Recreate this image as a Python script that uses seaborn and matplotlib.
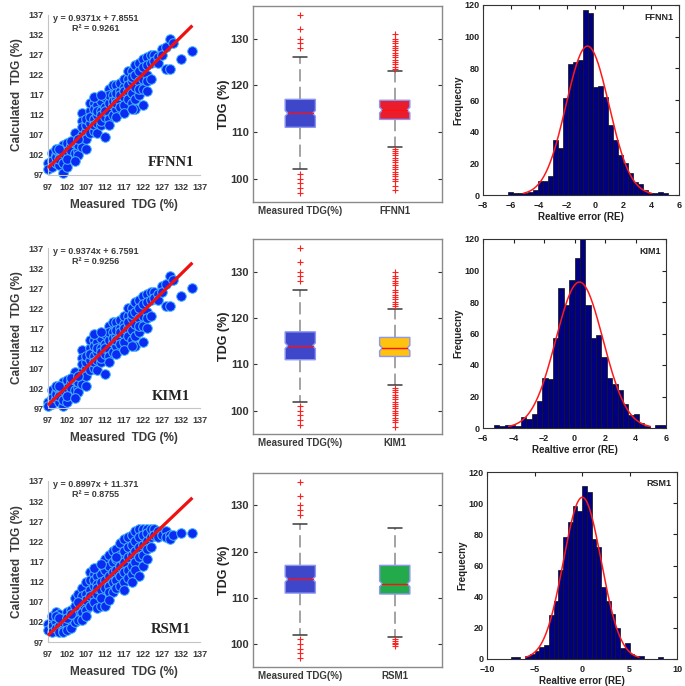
import numpy as np
import pandas as pd
import matplotlib
matplotlib.use("Agg")
import matplotlib.pyplot as plt
from matplotlib.patches import Polygon
import seaborn as sns

sns.set_style("white")
plt.rcParams['font.family'] = ['Liberation Sans', 'DejaVu Sans']
plt.rcParams['font.weight'] = 'bold'
plt.rcParams['axes.labelweight'] = 'bold'

models = ['FFNN1', 'KIM1', 'RSM1']

# ---- scatter data (measured vs calculated TDG, %) ----
measured = [97, 97, 98, 98, 98, 99, 99, 99, 100, 100, 100, 101, 101, 101, 101,
            102, 102, 102, 103, 103, 103, 104, 104, 104, 105, 105, 105,
            106, 106, 106, 106, 106, 107, 107, 107, 107, 107, 108, 108, 108, 108, 108,
            109, 109, 109, 109, 109, 110, 110, 110, 110, 110, 111, 111, 111, 111, 111,
            112, 112, 112, 112, 112, 113, 113, 113, 113, 113, 114, 114, 114, 114, 114,
            115, 115, 115, 115, 115, 116, 116, 116, 116, 116, 117, 117, 117, 117, 117,
            118, 118, 118, 118, 118, 119, 119, 119, 119, 119, 120, 120, 120, 120, 120,
            121, 121, 121, 121, 121, 122, 122, 122, 122, 122, 123, 123, 123, 123, 123,
            124, 124, 124, 125, 125, 126, 126, 127, 127, 128, 128, 129, 129, 130, 132, 135,
            99, 100, 102, 103, 104, 105, 109, 111, 113, 115, 117, 119]

calc_ffnn = [100.0, 98.5, 102.5, 100.5, 99.0, 102.0, 100.0, 101.5, 102.5, 99.5, 101.0,
             104.5, 97.5, 100.0, 102.5, 105.0, 103.0, 99.0, 104.5, 101.5, 103.0,
             107.5, 105.0, 102.5, 103.0, 104.5, 102.0,
             112.5, 110.5, 104.0, 107.0, 109.0, 108.0, 106.0, 103.5, 109.5, 111.0,
             113.0, 110.0, 107.5, 111.5, 115.0, 115.0, 113.5, 111.0, 108.0, 109.5,
             114.5, 112.0, 107.5, 110.0, 113.0, 113.0, 115.5, 109.5, 112.0, 110.5,
             116.5, 114.0, 106.5, 111.5, 113.0, 118.5, 115.0, 112.5, 117.0, 111.0,
             117.0, 114.5, 119.5, 112.0, 115.5, 119.5, 116.0, 113.5, 117.5, 115.0,
             118.0, 115.5, 120.0, 114.0, 117.0, 119.0, 116.5, 121.0, 114.5, 118.0,
             121.0, 118.0, 116.0, 119.5, 123.0, 123.0, 120.5, 117.5, 115.0, 121.5,
             124.5, 122.0, 119.0, 116.0, 113.5, 125.0, 123.0, 120.5, 117.0, 118.5,
             126.0, 124.0, 121.0, 118.5, 114.5, 126.5, 124.5, 122.0, 120.5, 118.0,
             127.0, 125.0, 121.0, 127.0, 125.5, 126.5, 125.0, 128.5, 127.0,
             129.0, 123.5, 131.0, 123.5, 130.0, 126.0, 128.0,
             103.5, 103.5, 101.0, 105.5, 100.5, 106.0, 116.5, 117.0, 109.5, 111.5, 112.5, 113.5]

calc_kim = [98.5, 97.5, 101.5, 99.5, 98.0, 101.0, 99.5, 100.5, 101.5, 98.5, 100.0,
            103.5, 97.5, 99.0, 101.5, 104.0, 102.0, 98.5, 103.5, 100.5, 102.0,
            106.0, 104.0, 101.5, 102.0, 103.5, 101.0,
            111.5, 109.5, 103.0, 106.0, 108.0, 107.0, 105.0, 102.5, 108.5, 110.0,
            112.0, 109.0, 106.5, 110.5, 114.0, 114.0, 112.5, 110.0, 107.0, 108.5,
            113.5, 111.0, 106.5, 109.0, 112.0, 112.0, 114.5, 108.5, 111.0, 109.5,
            115.5, 113.0, 105.5, 110.5, 112.0, 117.5, 114.0, 111.5, 116.0, 110.0,
            116.0, 113.5, 118.5, 111.0, 114.5, 118.5, 115.0, 112.5, 116.5, 114.0,
            117.0, 114.5, 119.0, 113.0, 116.0, 118.0, 115.5, 120.0, 113.5, 117.0,
            120.0, 117.0, 115.0, 118.5, 122.0, 122.0, 119.5, 116.5, 114.0, 120.5,
            123.5, 121.0, 118.0, 115.0, 112.5, 124.0, 122.0, 119.5, 116.0, 117.5,
            125.0, 123.0, 120.0, 117.5, 113.5, 125.5, 123.5, 121.0, 119.5, 117.0,
            126.0, 124.0, 120.0, 126.0, 124.5, 125.5, 124.0, 127.5, 126.0,
            128.0, 122.5, 130.0, 122.5, 129.0, 125.0, 127.0,
            102.5, 102.5, 100.0, 104.5, 99.5, 105.0, 115.5, 116.0, 108.5, 110.5, 111.5, 112.5]

calc_rsm = [101.5, 100.0, 103.5, 101.0, 99.5, 104.5, 102.0, 100.5, 104.0, 101.0, 99.5,
            103.0, 100.0, 102.0, 99.5, 104.5, 101.5, 100.0, 105.0, 102.5, 100.5,
            108.0, 104.0, 102.0, 109.0, 105.0, 102.5,
            110.5, 108.5, 104.5, 102.5, 106.5, 112.0, 109.0, 105.0, 107.5, 103.5,
            114.5, 112.5, 110.0, 106.0, 108.5, 114.0, 111.0, 108.5, 107.0, 112.5,
            113.5, 111.5, 109.0, 105.5, 110.5, 114.0, 112.0, 110.0, 106.0, 108.0,
            117.5, 115.0, 112.5, 110.5, 106.0, 118.5, 116.0, 113.5, 111.0, 109.5,
            119.5, 117.0, 114.5, 112.0, 109.5, 120.0, 117.5, 115.0, 112.5, 110.5,
            121.5, 118.5, 116.0, 113.5, 111.0, 122.5, 119.5, 117.0, 114.5, 112.0,
            123.0, 120.5, 118.0, 115.0, 113.0, 123.5, 121.0, 118.5, 116.0, 114.0,
            124.5, 122.0, 119.5, 117.0, 115.0, 125.0, 123.0, 120.5, 118.0, 113.5,
            125.0, 123.5, 121.0, 118.5, 116.0, 125.0, 124.0, 122.0, 120.0, 117.5,
            125.0, 123.0, 120.5, 125.0, 123.5, 124.5, 123.0, 124.5, 123.5,
            124.5, 123.0, 123.5, 122.5, 123.5, 124.0, 124.0,
            103.5, 103.0, 103.0, 104.0, 106.0, 107.0, 115.5, 116.5, 107.5, 118.0, 110.0, 112.0]

calculated = [calc_ffnn, calc_kim, calc_rsm]
slopes = [0.9371, 0.9374, 0.8997]
intercepts = [7.8551, 6.7591, 11.371]
eq_labels = ['y = 0.9371x + 7.8551', 'y = 0.9374x + 6.7591', 'y = 0.8997x + 11.371']
r2_labels = ['R² = 0.9261', 'R² = 0.9256', 'R² = 0.8755']

# ---- box plot summary values ----
box_names = ['Measured TDG(%)', 'FFNN1', 'KIM1', 'RSM1']
box_med = [114.0, 114.7, 113.5, 113.0]
box_q1 = [111.0, 112.7, 111.7, 110.8]
box_q3 = [117.0, 116.8, 115.8, 117.0]
box_lo = [102.0, 106.7, 105.5, 101.5]
box_hi = [126.0, 123.0, 122.0, 125.0]
box_fliers = [
    [128, 129, 130, 132, 135, 101, 100, 99, 98, 97],
    [123.5, 124, 124.5, 125, 125.5, 126, 126.5, 127, 127.5, 128, 128.5, 129, 129.5, 130, 131,
     106.3, 106, 105.5, 105, 104.5, 104, 103.5, 103, 102.5, 102, 101.5, 101, 100.5, 100,
     99.5, 98.5, 97.5],
    [122.5, 123, 123.5, 124, 124.5, 125, 125.5, 126, 127, 127.5, 128, 128.5, 129, 130,
     105, 104.5, 104, 103.5, 103, 102.5, 102, 101.5, 101, 100.5, 100, 99.5, 99, 98.5,
     98, 97.5, 96.5],
    [101, 100.6, 100.3, 100, 99.5],
]
box_colors = ['#3E47C9', '#EA1D2C', '#FFC20F', '#23AA4B']

# ---- histogram counts of relative error ----
ffnn_counts = [2, 1, 1, 1, 2, 3, 9, 9, 12, 35, 30, 61, 83, 84, 85, 117, 115, 68, 69, 62,
               44, 35, 25, 20, 14, 8, 7, 3, 1, 1, 2, 1]
kim_counts = [2, 1, 2, 2, 1, 7, 6, 9, 17, 32, 31, 57, 89, 78, 94, 108, 120, 78, 57, 59,
              45, 32, 28, 24, 15, 8, 9, 3, 1, 0, 2, 2]
rsm_counts = [1, 1, 0, 2, 3, 5, 8, 9, 28, 37, 57, 78, 88, 98, 95, 111, 107, 77, 72, 46,
              37, 29, 20, 7, 10, 3, 2, 2, 0, 0, 0, 1]
hist_counts = [ffnn_counts, kim_counts, rsm_counts]
hist_ranges = [(-6.21, 5.21), (-5.28, 6.0), (-7.5, 8.5)]
hist_xlims = [(-8, 6), (-6, 6), (-10, 10)]
hist_xticks = [np.arange(-8, 7, 2), np.arange(-6, 7, 2), np.arange(-10, 11, 5)]

W, H = 685, 686
fig = plt.figure(figsize=(W / 100, H / 100), dpi=100)


def px_axes(left, top, right, bottom):
    return fig.add_axes([left / W, 1 - bottom / H, (right - left) / W, (bottom - top) / H])


scatter_rows = [(15, 175), (248, 408), (481, 642)]
box_rows = [(6, 202), (239, 434), (473, 667)]
hist_rows = [(483, 5, 679, 195), (483, 239, 666, 428), (487, 472, 677, 659)]
gray_txt = '#3a3a3a'

for i, m in enumerate(models):
    # scatter panel
    ax = px_axes(48, scatter_rows[i][0], 200, scatter_rows[i][1])
    sns.scatterplot(x=measured, y=calculated[i], ax=ax, s=48, color='#0B2BF2',
                    edgecolor='#45B8FF', linewidth=0.7, clip_on=False, zorder=2)
    xs = np.array([97, 135])
    ax.plot(xs, slopes[i] * xs + intercepts[i], color='#F01010', lw=2.3, zorder=3,
            solid_capstyle='butt', clip_on=False)
    ax.set_xlim(97, 137)
    ax.set_ylim(97, 137)
    ticks = np.arange(97, 138, 5)
    ax.set_xticks(ticks)
    ax.set_yticks(ticks)
    ax.tick_params(labelsize=6.5, colors=gray_txt, length=0, pad=3)
    ax.tick_params(axis='x', length=2.5, color='#b0b0b0', direction='out')
    for name, s in ax.spines.items():
        if name in ('left', 'bottom'):
            s.set_color('#c4c4c4')
            s.set_linewidth(0.8)
        else:
            s.set_visible(False)
    ax.set_xlabel('Measured  TDG (%)', fontsize=8.5, color=gray_txt, labelpad=5)
    ax.set_ylabel('Calculated  TDG (%)', fontsize=8.5, color=gray_txt, labelpad=4)
    ax.text(98.3, 136.2, eq_labels[i], fontsize=6.5, color=gray_txt, va='center', ha='left')
    ax.text(103.3, 133.6, r2_labels[i], fontsize=6.5, color=gray_txt, va='center', ha='left')
    ax.text(129.3, 100.0, m, fontsize=10.5, color='#222222', ha='center', va='center',
            family=['Liberation Serif', 'DejaVu Serif'], fontweight='bold')

    # box plot panel
    ax = px_axes(253, box_rows[i][0], 442, box_rows[i][1])
    idx = [0, i + 1]
    stats = []
    for k in idx:
        stats.append(dict(med=box_med[k], q1=box_q1[k], q3=box_q3[k],
                          whislo=box_lo[k], whishi=box_hi[k], fliers=box_fliers[k]))
    ax.bxp(stats, positions=[1, 2], widths=0.32, showbox=False, capwidths=0.15,
           whiskerprops=dict(color='#8a8a8a', lw=1.1, linestyle=(0, (8, 3.5))),
           capprops=dict(color='#3a3a3a', lw=1.1),
           flierprops=dict(marker='+', markeredgecolor='#FF2020', markersize=5, mew=0.8),
           medianprops=dict(visible=False))
    for pos, k in zip([1, 2], idx):
        w = 0.32
        half = w / 2
        inset = 0.09 * w
        lo_n, hi_n = box_med[k] - 0.6, box_med[k] + 0.6
        verts = [(pos - half, box_q1[k]), (pos + half, box_q1[k]), (pos + half, lo_n),
                 (pos + half - inset, box_med[k]), (pos + half, hi_n), (pos + half, box_q3[k]),
                 (pos - half, box_q3[k]), (pos - half, hi_n), (pos - half + inset, box_med[k]),
                 (pos - half, lo_n)]
        ax.add_patch(Polygon(verts, closed=True, fc=box_colors[k], ec='#8C96F5', lw=1.0, zorder=3))
        ax.plot([pos - half + inset, pos + half - inset], [box_med[k]] * 2, color='#FF1010',
                lw=1.0, zorder=4)
    ax.set_xlim(0.5, 2.5)
    ax.set_ylim(95, 137)
    ax.set_xticks([1, 2])
    ax.set_xticklabels([box_names[0], box_names[i + 1]], fontsize=7, color=gray_txt)
    ax.set_yticks([100, 110, 120, 130])
    ax.tick_params(axis='x', length=0, pad=3)
    ax.tick_params(axis='y', direction='in', length=3, right=True, left=True, labelsize=8,
                   colors='#333333', pad=3)
    for s in ax.spines.values():
        s.set_color('#8a8a8a')
        s.set_linewidth(1.0)
    ax.set_ylabel('TDG (%)', fontsize=9, color='#222222', labelpad=0)

    # histogram panel
    l, t, r, b = hist_rows[i]
    ax = px_axes(l, t, r, b)
    counts = np.array(hist_counts[i], dtype=float)
    edges = np.linspace(hist_ranges[i][0], hist_ranges[i][1], len(counts) + 1)
    centers = (edges[:-1] + edges[1:]) / 2
    hdf = pd.DataFrame({'re': centers, 'count': counts})
    sns.histplot(data=hdf, x='re', weights='count', bins=edges.tolist(), ax=ax,
                 color='#000080', edgecolor='#111111', linewidth=0.5, alpha=1)
    # normal fit from the binned counts
    n = counts.sum()
    mu = (centers * counts).sum() / n
    sd = np.sqrt(((centers - mu) ** 2 * counts).sum() / n)
    bw = edges[1] - edges[0]
    xc = np.linspace(mu - 3 * sd, mu + 3 * sd, 200)
    ax.plot(xc, n * bw * np.exp(-0.5 * ((xc - mu) / sd) ** 2) / (sd * np.sqrt(2 * np.pi)),
            color='#FF1A1A', lw=1.1)
    ax.set_xlim(*hist_xlims[i])
    ax.set_ylim(0, 120)
    ax.set_xticks(hist_xticks[i])
    ax.set_yticks(np.arange(0, 121, 20))
    ax.tick_params(direction='in', length=3, top=True, right=True, labelsize=6.5,
                   colors='#222222', pad=2.5)
    ax.tick_params(axis='x', pad=4)
    for s in ax.spines.values():
        s.set_color('#333333')
        s.set_linewidth(0.8)
    ax.set_xlabel('Realtive error (RE)', fontsize=7, color='#222222', labelpad=1.5)
    ax.set_ylabel('Frequecny', fontsize=7, color='#222222', labelpad=1)
    ax.text(0.97, 0.96, m, transform=ax.transAxes, ha='right', va='top', fontsize=6.5,
            color='#222222')

fig.savefig('out.png', dpi=100)
